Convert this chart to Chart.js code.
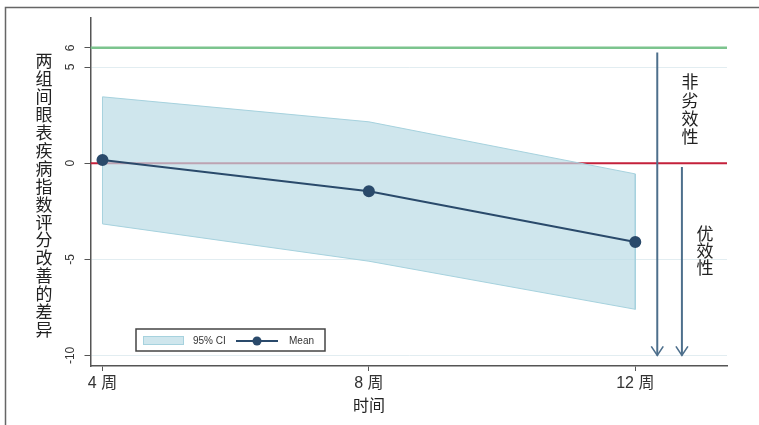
<!DOCTYPE html>
<html>
<head>
<meta charset="utf-8">
<script src="https://cdn.jsdelivr.net/npm/chart.js@4.4.1/dist/chart.umd.min.js"></script>
<style>
  html, body { margin: 0; padding: 0; background: #fff; }
  #wrap { width: 759px; height: 425px; }
</style>
</head>
<body>
<div id="wrap"><canvas id="chart" width="759" height="425"></canvas></div>
<script>
// ---- data ----
const weeks = [4, 8, 12];
const weekLabels = ['4 周', '8 周', '12 周'];
const meanDiff = [0.16, -1.46, -4.1];
const ciUpper = [3.45, 2.15, -0.56];
const ciLower = [-3.16, -5.1, -7.6];
const yTickValues = [-10, -5, 0, 5, 6];
const marginLine = 6;   // non-inferiority margin
const zeroLine = 0;
// arrows: [x, yStart, yEnd]
const arrowNonInf = [12.33, 5.75, -10];
const arrowSup = [12.7, -0.2, -10];

const yTitle = '两组间眼表疾病指数评分改善的差异';
const xTitle = '时间';
const nonInfText = '非劣效性';
const supText = '优效性';

const X_MIN = 3.82, X_MAX = 13.377;
const Y_MIN = -10.55, Y_MAX = 7.55;

const NAVY = '#2a4a6b';
const ARROW = '#4d6f8c';
const CI_FILL = 'rgba(186,220,230,0.7)';
const CI_LINE = '#a6d2de';
const CJK = '"Noto Sans CJK SC", sans-serif';
const LAT = '"Liberation Sans", Arial, sans-serif';
const MIX = '"Liberation Sans", "Noto Sans CJK SC", sans-serif';

const pt = (xs, ys) => xs.map((x, i) => ({ x: x, y: ys[i] }));
const ciPolygon = pt(weeks, ciUpper)
  .concat(pt(weeks.slice().reverse(), ciLower.slice().reverse()))
  .concat([{ x: weeks[0], y: ciUpper[0] }]);

const lineSet = (data, color, width, order) => ({
  data, borderColor: color, borderWidth: width, pointRadius: 0,
  fill: false, tension: 0, order
});

const decorPlugin = {
  id: 'decor',
  beforeDraw(chart) {
    const ctx = chart.ctx;
    ctx.save();
    ctx.fillStyle = '#fff';
    ctx.fillRect(0, 0, chart.width, chart.height);
    ctx.strokeStyle = '#666';
    ctx.lineWidth = 1.5;
    ctx.strokeRect(5.5, 7.5, 900, 600);
    ctx.restore();
  },
  afterDraw(chart) {
    const ctx = chart.ctx;
    const ys = chart.scales.y;
    ctx.save();
    ctx.fillStyle = '#333';

    // y tick labels, rotated
    ctx.font = '12px ' + LAT;
    ctx.textAlign = 'center';
    ctx.textBaseline = 'middle';
    yTickValues.forEach(v => {
      ctx.save();
      ctx.translate(71, ys.getPixelForValue(v));
      ctx.rotate(-Math.PI / 2);
      ctx.fillText(String(v), 0, 0);
      ctx.restore();
    });

    // y title, stacked characters
    ctx.fillStyle = '#222';
    ctx.font = '17px ' + CJK;
    [...yTitle].forEach((ch, i) => ctx.fillText(ch, 44, 61 + i * 17.9));

    // x title
    ctx.font = '16px ' + CJK;
    ctx.fillText(xTitle, 369, 405);

    // annotation text
    ctx.font = '17px ' + CJK;
    [...nonInfText].forEach((ch, i) => ctx.fillText(ch, 690, 82 + i * 18.3));
    [...supText].forEach((ch, i) => ctx.fillText(ch, 705, 234 + i * 16.7));

    // arrow heads
    ctx.strokeStyle = ARROW;
    ctx.lineWidth = 1.6;
    [arrowNonInf, arrowSup].forEach(a => {
      const x = chart.scales.x.getPixelForValue(a[0]);
      const y = ys.getPixelForValue(a[2]);
      ctx.beginPath();
      ctx.moveTo(x - 6, y - 9);
      ctx.lineTo(x, y);
      ctx.lineTo(x + 6, y - 9);
      ctx.stroke();
    });

    // legend
    ctx.fillStyle = '#fff';
    ctx.fillRect(136, 329, 189, 22);
    ctx.strokeStyle = '#444';
    ctx.lineWidth = 1.5;
    ctx.strokeRect(136, 329, 189, 22);
    ctx.fillStyle = CI_FILL;
    ctx.fillRect(143, 336, 41, 9);
    ctx.strokeStyle = CI_LINE;
    ctx.lineWidth = 1;
    ctx.strokeRect(143.5, 336.5, 40, 8);
    ctx.fillStyle = '#333';
    ctx.font = '10px ' + LAT;
    ctx.textAlign = 'left';
    ctx.fillText('95% CI', 193, 341);
    ctx.fillText('Mean', 289, 341);
    ctx.strokeStyle = NAVY;
    ctx.lineWidth = 2;
    ctx.beginPath();
    ctx.moveTo(236, 341);
    ctx.lineTo(278, 341);
    ctx.stroke();
    ctx.fillStyle = NAVY;
    ctx.beginPath();
    ctx.arc(257, 341, 4.5, 0, Math.PI * 2);
    ctx.fill();
    ctx.restore();
  }
};

new Chart(document.getElementById('chart'), {
  type: 'line',
  data: {
    datasets: [
      lineSet([{ x: X_MIN, y: marginLine }, { x: X_MAX, y: marginLine }], '#7cc48e', 2.5, 6),
      lineSet([{ x: X_MIN, y: zeroLine }, { x: X_MAX, y: zeroLine }], '#c4213b', 2, 5),
      {
        data: ciPolygon, borderColor: CI_LINE, borderWidth: 1, backgroundColor: CI_FILL,
        fill: 'shape', pointRadius: 0, tension: 0, order: 4
      },
      lineSet([{ x: arrowNonInf[0], y: arrowNonInf[1] }, { x: arrowNonInf[0], y: arrowNonInf[2] }], ARROW, 2, 3),
      lineSet([{ x: arrowSup[0], y: arrowSup[1] }, { x: arrowSup[0], y: arrowSup[2] }], ARROW, 2, 3),
      {
        data: pt(weeks, meanDiff), borderColor: NAVY, borderWidth: 2,
        pointRadius: 5, pointBackgroundColor: NAVY, pointBorderColor: NAVY,
        fill: false, tension: 0, order: 1
      }
    ]
  },
  options: {
    responsive: false,
    animation: false,
    devicePixelRatio: 1,
    layout: { padding: { top: 18, right: 32, left: 0, bottom: 0 } },
    plugins: { legend: { display: false }, tooltip: { enabled: false } },
    scales: {
      x: {
        type: 'linear', min: X_MIN, max: X_MAX,
        afterBuildTicks: s => { s.ticks = weeks.map(v => ({ value: v })); },
        afterFit: s => { s.height = 59; },
        ticks: {
          autoSkip: false, maxRotation: 0, padding: 3, color: '#333',
          font: { size: 16, family: MIX },
          callback: (v, i) => weekLabels[i]
        },
        grid: { drawOnChartArea: false, drawTicks: true, tickLength: 5, tickColor: '#555' },
        border: { color: '#555', width: 1.5 }
      },
      y: {
        type: 'linear', min: Y_MIN, max: Y_MAX,
        afterBuildTicks: s => { s.ticks = yTickValues.map(v => ({ value: v })); },
        afterFit: s => { s.width = 90.5; },
        ticks: { display: false },
        grid: { color: '#e2edf1', lineWidth: 1, drawTicks: true, tickLength: 6, tickColor: '#555' },
        border: { color: '#555', width: 1.5 }
      }
    }
  },
  plugins: [decorPlugin]
});
</script>
</body>
</html>
